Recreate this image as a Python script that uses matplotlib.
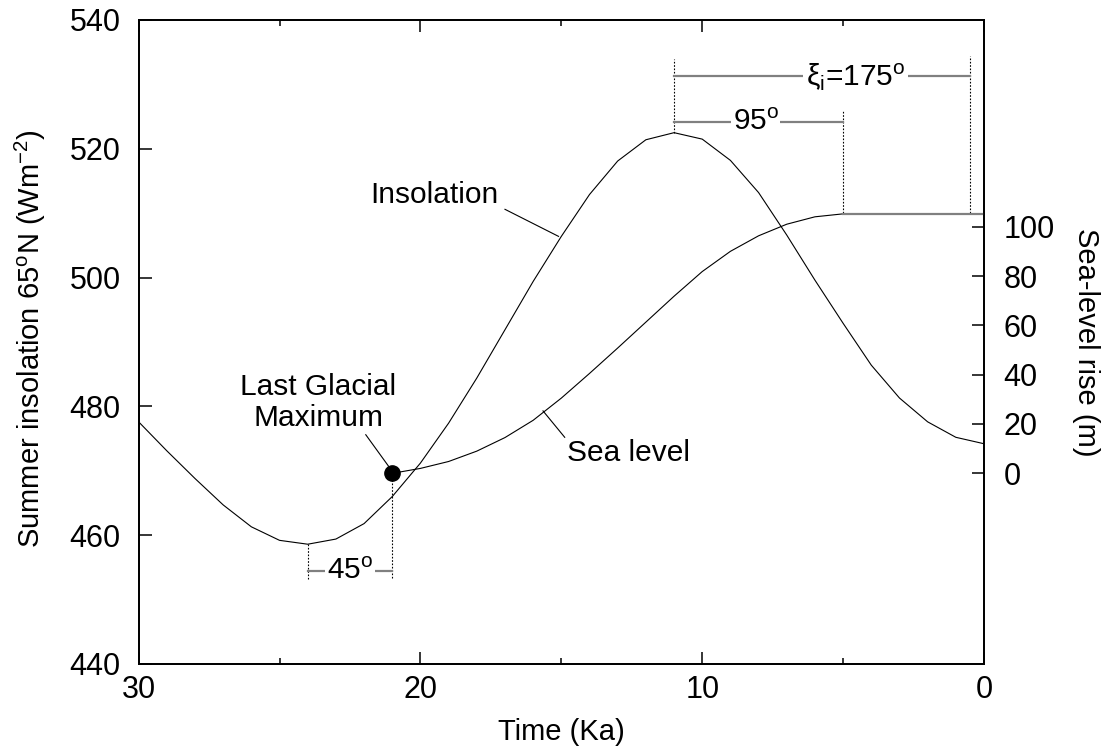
import numpy as np
import matplotlib
matplotlib.use('Agg')
import matplotlib.pyplot as plt
from matplotlib.ticker import MultipleLocator

plt.rcParams['font.family'] = ['Liberation Sans', 'DejaVu Sans']
plt.rcParams['mathtext.fontset'] = 'custom'
plt.rcParams['mathtext.rm'] = 'Liberation Sans'
plt.rcParams['mathtext.it'] = 'Liberation Sans:italic'

# insolation, 65N summer (W m-2), every 1 ka from 30 to 0
t_ins = np.arange(30, -1, -1)
insolation = [477.6, 473.1, 468.8, 464.7, 461.3, 459.2, 458.6, 459.4, 461.8, 466.0,
              471.2, 477.4, 484.4, 491.9, 499.4, 506.4, 512.9, 518.1, 521.4, 522.5,
              521.5, 518.2, 513.2, 506.6, 499.6, 492.9, 486.4, 481.3, 477.6, 475.2, 474.2]

# sea-level rise (m) from the LGM (21 ka) to 5 ka, then flat
t_sea = np.arange(21, 4, -1)
sea_level = [0.0, 2.0, 4.8, 9.0, 14.5, 21.5, 30.5, 40.5, 50.8, 61.3, 71.8,
             81.8, 90.0, 96.3, 101.0, 104.0, 105.2]
t_flat = [5, 0]

gray = '#808080'
fs_tick = 22
fs_lab = 21
fs_txt = 21.5

fig = plt.figure(figsize=(11.11, 7.48), dpi=100)
ax = fig.add_axes([0.1248, 0.1123, 0.7609, 0.861])
ax2 = ax.twinx()

ax.plot(t_ins, insolation, color='k', lw=0.8)
ax.set_xlim(30, 0)
ax.set_ylim(440, 540)
ax.xaxis.set_major_locator(MultipleLocator(10))
ax.xaxis.set_minor_locator(MultipleLocator(5))
ax.yaxis.set_major_locator(MultipleLocator(20))
ax.tick_params(axis='x', which='major', direction='in', length=8.5, width=1.1,
               top=True, labelsize=fs_tick, pad=8)
ax.tick_params(axis='x', which='minor', direction='in', length=4.5, width=1.1, top=True)
ax.tick_params(axis='y', which='major', direction='in', length=9, width=1.1,
               labelsize=fs_tick, pad=13)
for s in ax.spines.values():
    s.set_linewidth(1.3)

ax2.plot(t_sea, sea_level, color='k', lw=0.8)
ax2.plot(t_flat, [sea_level[-1]] * 2, color=gray, lw=1.6)
ax2.set_ylim(-77.3, 183.8)
ax2.set_yticks([0, 20, 40, 60, 80, 100])
ax2.tick_params(axis='y', direction='in', length=8.5, width=1.1, labelsize=fs_tick, pad=14)
for s in ax2.spines.values():
    s.set_linewidth(1.3)

ax.set_xlabel('Time (Ka)', fontsize=fs_lab, va='center')
ax.xaxis.set_label_coords(0.5, -0.105)
ax.set_ylabel('Summer insolation 65$^{\\rm o}$N (Wm$^{-2}$)', fontsize=fs_lab, va='center')
ax.yaxis.set_label_coords(-0.128, 0.505)
ax2.set_ylabel('Sea-level rise (m)', fontsize=fs_lab, rotation=270, va='center')
ax2.yaxis.set_label_coords(1.121, 0.5)

# Last Glacial Maximum marker
ax.plot(21, 469.7, 'o', color='k', ms=11, zorder=5)

# phase-difference brackets
dot = dict(color='k', lw=0.8, ls=(0, (1.5, 1.5)))
box = dict(facecolor='white', edgecolor='none', pad=1)
ax.plot([24, 24], [458.6, 453.2], **dot)
ax.plot([21, 21], [469.7, 453.2], **dot)
ax.plot([24, 21], [454.5, 454.5], color=gray, lw=1.6)
ax.text(22.5, 454.5, '45$^{\\rm o}$', fontsize=fs_txt, ha='center', va='center', bbox=box)

ax.plot([11, 11], [522.5, 534.0], **dot)
ax.plot([5, 5], [510.1, 526.0], **dot)
ax.plot([0.5, 0.5], [510.1, 534.4], **dot)
ax.plot([11, 5], [524.2, 524.2], color=gray, lw=1.6)
ax.text(8.1, 524.2, '95$^{\\rm o}$', fontsize=fs_txt, ha='center', va='center', bbox=box)
ax.plot([11, 0.5], [531.3, 531.3], color=gray, lw=1.6)
ax.text(4.55, 531.3, 'ξ$_{\\rm i}$=175$^{\\rm o}$', fontsize=fs_txt, ha='center',
        va='center', bbox=dict(facecolor='white', edgecolor='none', pad=2))

# curve labels
ax.text(19.5, 512.9, 'Insolation', fontsize=fs_txt, ha='center', va='center')
ax.plot([17.0, 15.1], [510.6, 506.4], color='k', lw=0.8)
ax.text(23.63, 480.6, 'Last Glacial\nMaximum', fontsize=fs_txt, ha='center', va='center',
        linespacing=1.1)
ax.plot([21.94, 21.13], [475.6, 470.7], color='k', lw=0.8)
ax.text(12.6, 472.8, 'Sea level', fontsize=fs_txt, ha='center', va='center')
ax.plot([14.88, 15.65], [475.2, 479.3], color='k', lw=0.8)

fig.savefig('out.png', dpi=100)
